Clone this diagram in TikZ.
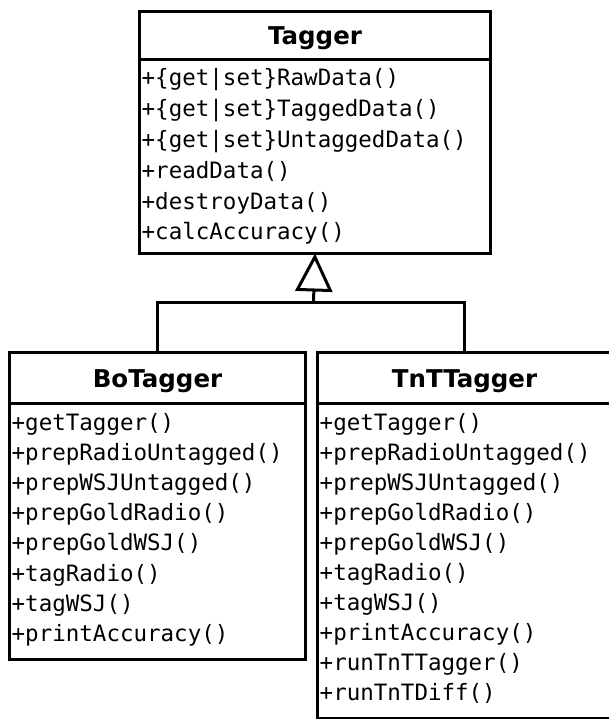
\documentclass[tikz,border=0pt]{standalone}
\usepackage{fontspec}
\setmainfont{DejaVu Sans}
\setmonofont{DejaVu Sans Mono}
\usetikzlibrary{arrows.meta}

\tikzset{
	umltitle/.style={draw, line width=3pt, anchor=north west, inner sep=0pt,
		font=\bfseries\fontsize{24.5}{28}\selectfont, text height=19pt, text depth=0.6pt},
	umlbody/.style={draw, line width=3pt, anchor=north west, inner sep=0pt},
	umlop/.style={anchor=west, inner sep=0pt,
		font=\ttfamily\fontsize{22.5}{27}\selectfont, text height=7.5pt, text depth=2.5pt},
	umllink/.style={line width=3pt},
}

\begin{document}
\begin{tikzpicture}[x=1pt,y=-1pt]
\fill[white] (0,0) rectangle (608,719);
\useasboundingbox (0,0) rectangle (608,719);
%
\node[umltitle, minimum width=351pt, minimum height=48pt] (tagtitle) at (138,10) {Tagger};
\node[umlbody, minimum width=351pt, minimum height=194pt] (tagbody) at (138,58) {};
\node[umltitle, minimum width=296pt, minimum height=51pt] (botitle) at (8,351) {BoTagger};
\node[umlbody, minimum width=296pt, minimum height=256pt] (bobody) at (8,402) {};
\node[umltitle, minimum width=294pt, minimum height=51pt] (tnttitle) at (316,351) {TnTTagger};
\node[umlbody, minimum width=294pt, minimum height=315pt] (tntbody) at (316,402) {};
%
\foreach \op [count=\i from 0] in {{+\{get|set\}RawData()},{+\{get|set\}TaggedData()},
	{+\{get|set\}UntaggedData()},+readData(),+destroyData(),+calcAccuracy()}
	\node[umlop] (tagop\i) at (141.5,{83.5+30.8*\i}) {\op};
\foreach \op [count=\i from 0] in {+getTagger(),+prepRadioUntagged(),+prepWSJUntagged(),
	+prepGoldRadio(),+prepGoldWSJ(),+tagRadio(),+tagWSJ(),+printAccuracy()}
	\node[umlop] (boop\i) at (11.5,{427.5+30.2*\i}) {\op};
\foreach \op [count=\i from 0] in {+getTagger(),+prepRadioUntagged(),+prepWSJUntagged(),
	+prepGoldRadio(),+prepGoldWSJ(),+tagRadio(),+tagWSJ(),+printAccuracy(),
	+runTnTTagger(),+runTnTDiff()}
	\node[umlop] (tntop\i) at (319.5,{427.5+30.1*\i}) {\op};
%
\coordinate (join) at (313.5,302);
\draw[umllink] (botitle.north) |- (join) -| (tnttitle.north);
\draw[umllink, -{Triangle[open, length=38pt, width=37pt]}] (join) -- ([yshift=1.5pt]tagbody.south);
\end{tikzpicture}
\end{document}
